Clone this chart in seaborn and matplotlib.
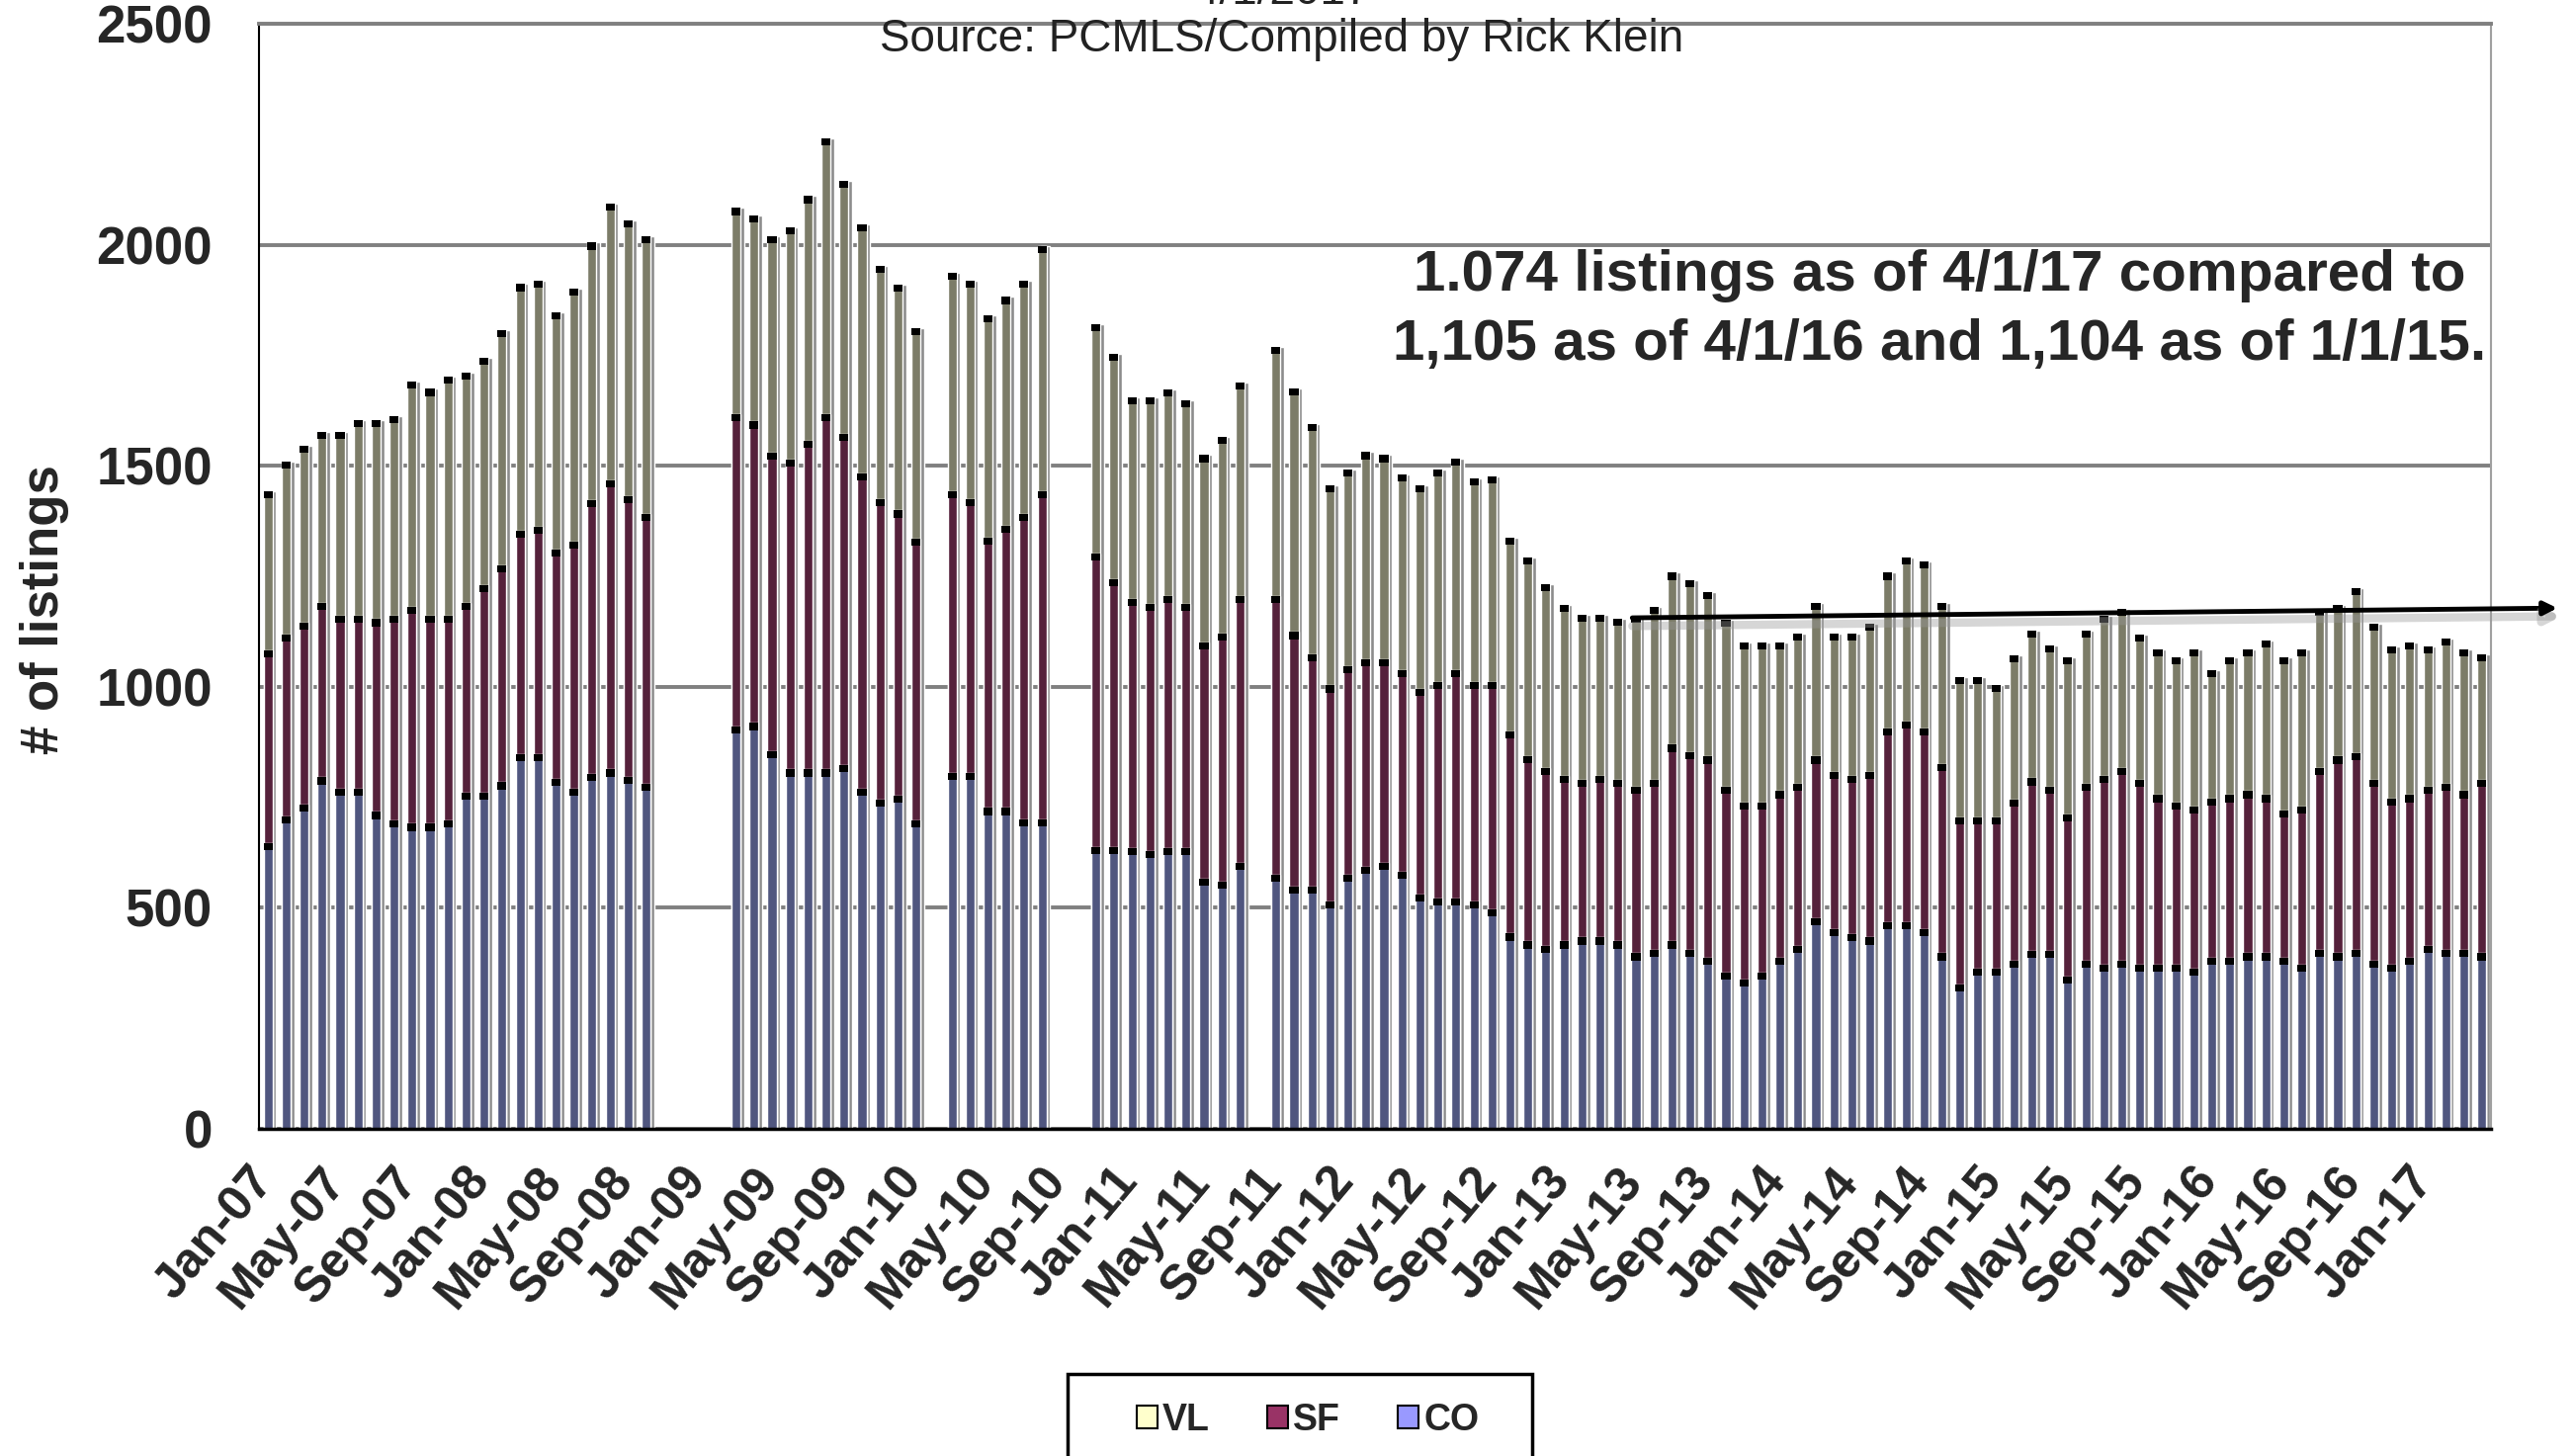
import matplotlib
matplotlib.use("Agg")
import matplotlib.pyplot as plt
import matplotlib.patheffects as pe
import matplotlib.transforms as mtransforms
from matplotlib.patches import Patch, Rectangle
import numpy as np
import pandas as pd
import seaborn as sns

# monthly listings, Jan-07 .. Apr-17 (None = month not reported)
co = [646, 706, 733, 795, 769, 769, 717, 698, 690, 690, 698, 761,
      761, 784, 847, 847, 792, 769, 803, 813, 797, 780, None, None,
      None, None, 910, 918, 855, 813, 813, 813, 824, 769, 745, 753,
      698, None, 805, 805, 726, 726, 701, 701, None, None, 638, 638,
      635, 628, 635, 635, 566, 559, 602, None, 575, 549, 549, 514,
      575, 592, 602, 582, 531, 521, 521, 514, 496, 442, 424, 414,
      424, 433, 433, 424, 397, 405, 424, 405, 388, 354, 337, 354,
      388, 414, 476, 451, 441, 433, 468, 468, 451, 397, 327, 362,
      362, 380, 403, 403, 344, 380, 371, 380, 371, 371, 371, 362,
      388, 388, 397, 397, 388, 371, 405, 397, 405, 380, 371, 388,
      414, 405, 405, 397]
sf = [436, 412, 412, 394, 392, 392, 436, 463, 490, 471, 463, 428,
      470, 491, 507, 515, 518, 560, 620, 654, 635, 611, None, None,
      None, None, 706, 682, 674, 701, 743, 803, 748, 713, 679, 646,
      638, None, 638, 619, 612, 639, 690, 742, None, None, 664, 606,
      563, 559, 570, 552, 535, 561, 603, None, 630, 575, 525, 489,
      471, 471, 461, 456, 465, 489, 517, 496, 514, 457, 419, 402,
      374, 357, 365, 366, 376, 385, 445, 447, 454, 419, 401, 384,
      376, 367, 366, 357, 357, 375, 437, 454, 454, 428, 377, 342,
      342, 365, 390, 370, 367, 401, 427, 436, 419, 384, 367, 368,
      359, 367, 367, 358, 333, 359, 411, 445, 445, 410, 376, 367,
      359, 376, 359, 393]
vl = [361, 391, 400, 387, 415, 442, 450, 452, 511, 513, 541, 521,
      513, 532, 557, 556, 538, 572, 582, 627, 623, 629, None, None,
      None, None, 467, 466, 491, 525, 554, 624, 572, 565, 529, 510,
      476, None, 494, 494, 502, 517, 527, 554, None, None, 519, 509,
      457, 468, 468, 461, 423, 446, 483, None, 564, 552, 521, 452,
      445, 468, 461, 443, 459, 481, 478, 462, 466, 439, 449, 416,
      388, 373, 365, 364, 388, 391, 389, 389, 373, 379, 363, 363,
      337, 339, 347, 312, 322, 335, 353, 370, 378, 364, 319, 319,
      300, 327, 334, 320, 356, 346, 363, 361, 328, 329, 329, 354,
      291, 312, 320, 350, 346, 354, 361, 344, 373, 353, 345, 346,
      319, 328, 320, 284]

months = list(pd.date_range("2007-01-01", periods=len(co), freq="MS").strftime("%b-%y"))
tick_labels = months[::4]

title_text = "Source: PCMLS/Compiled by Rick Klein"
note_text = ("1.074 listings as of 4/1/17 compared to\n"
             "1,105 as of 4/1/16 and 1,104 as of 1/1/15.")
trend_start = (75.8, 1156)
trend_end = (127.2, 1178)

VL_BAR, SF_BAR, CO_BAR = "#7c7c68", "#55213b", "#50567f"
VL_KEY, SF_KEY, CO_KEY = "#ffffcc", "#993366", "#9999ff"

df = pd.DataFrame({"month": months, "co": co, "sf": sf, "vl": vl}).dropna()
df["pos"] = [months.index(m) for m in df["month"]]
df["sf_top"] = df["co"] + df["sf"]
df["total"] = df["sf_top"] + df["vl"]

sns.set_style("white")
plt.rcParams["font.family"] = ["Liberation Sans", "DejaVu Sans"]

fig, ax = plt.subplots(figsize=(26.05, 14.73), dpi=100)
fig.subplots_adjust(left=0.1006, right=0.9673, bottom=0.2247, top=0.9837)

bw = 0.5
# grey depth face of the 3d columns
n0 = len(ax.patches)
sns.barplot(data=df, x="month", y="total", order=months, color="#8c8c8c",
            width=bw, saturation=1, errorbar=None, ax=ax)
for p in ax.patches[n0:]:
    p.set_x(p.get_x() + 0.2)

sns.barplot(data=df, x="month", y="total", order=months, color=VL_BAR,
            width=bw, saturation=1, errorbar=None, ax=ax)
sns.barplot(data=df, x="month", y="sf_top", order=months, color=SF_BAR,
            width=bw, saturation=1, errorbar=None, ax=ax)
sns.barplot(data=df, x="month", y="co", order=months, color=CO_BAR,
            width=bw, saturation=1, errorbar=None, ax=ax)

# dark top faces of each segment
cap = 16
for col in ["co", "sf_top", "total"]:
    ax.bar(df["pos"], cap, bottom=df[col] - cap, width=bw, color="black", lw=0)

ax.set_xlim(-0.5, len(months) - 0.5)
ax.set_ylim(0, 2500)
ax.set_axisbelow(True)
ax.yaxis.grid(True, color="#808080", lw=2.8)
ax.xaxis.grid(False)

ax.set_yticks(np.arange(0, 2501, 500))
ax.set_yticklabels([str(v) for v in range(0, 2501, 500)], fontsize=38, fontweight="bold")
ax.tick_params(axis="y", length=12, width=2.5, color="#808080", pad=22)

ax.set_xticks(range(0, len(months), 4))
ax.set_xticklabels(tick_labels, rotation=50, ha="right", rotation_mode="anchor",
                   fontsize=36, fontweight="bold")
ax.set_xticks(np.arange(-0.5, len(months), 4), minor=True)
ax.tick_params(axis="x", which="major", length=0, pad=22)
ax.tick_params(axis="x", which="minor", length=10, width=2.5, color="#808080")
shift = mtransforms.ScaledTranslation(-0.2, 0, fig.dpi_scale_trans)
for lab in ax.get_xticklabels():
    lab.set_transform(lab.get_transform() + shift)

ax.set_xlabel("")
ax.set_ylabel("# of listings", fontsize=38, fontweight="bold")
ax.yaxis.set_label_coords(-0.085, 0.47)

for s in ["left", "bottom"]:
    ax.spines[s].set_color("black")
ax.spines["left"].set_linewidth(1.5)
ax.spines["bottom"].set_linewidth(2.5)
ax.spines["top"].set_color("#808080")
ax.spines["top"].set_linewidth(2.8)
ax.spines["right"].set_color("#a0a0a0")
ax.spines["right"].set_linewidth(1.5)

# trend arrow
ax.annotate("", xy=trend_end, xytext=trend_start, annotation_clip=False,
            arrowprops=dict(arrowstyle="-|>", lw=3.5, color="black", mutation_scale=20,
                            shrinkA=0, shrinkB=0,
                            path_effects=[pe.SimpleLineShadow(offset=(0, -6), shadow_color="#999999",
                                                              alpha=0.4, linewidth=6),
                                          pe.Normal()]))

fig.text(0.7532, 1 - 314 / 1473, note_text, ha="center", va="center", multialignment="center",
         fontsize=42, fontweight="bold", linespacing=1.38)
fig.text(0.4979, 1 - 40 / 1473, title_text, ha="center", va="center", fontsize=33, color="#222222")
fig.text(0.4979, 1 - 4 / 1473, "4/1/2017", ha="center", va="baseline", fontsize=33, color="#222222")

# legend, box runs off the bottom of the image
fig.patches.append(Rectangle((1080 / 2605, -0.03), 470 / 2605, (1473 - 1390) / 1473 + 0.03,
                             transform=fig.transFigure, fill=False, ec="black", lw=2.5))
handles = [Patch(facecolor=VL_KEY, edgecolor="black", lw=1.5),
           Patch(facecolor=SF_KEY, edgecolor="black", lw=1.5),
           Patch(facecolor=CO_KEY, edgecolor="black", lw=1.5)]
fig.legend(handles, ["VL", "SF", "CO"], loc="center", bbox_to_anchor=(0.508, 1 - 1437 / 1473),
           ncol=3, frameon=False, handlelength=0.55, handleheight=0.55, handletextpad=0.15,
           columnspacing=1.55, prop={"size": 27, "weight": "bold"})

fig.savefig("out.png", dpi=100)
